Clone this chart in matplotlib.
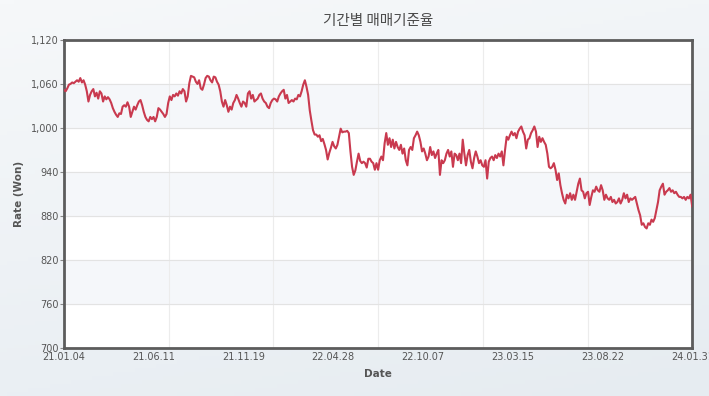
import numpy as np
import matplotlib
matplotlib.use("Agg")
import matplotlib.pyplot as plt
from matplotlib.colors import LinearSegmentedColormap
from matplotlib.ticker import FuncFormatter

# daily rate (Won), left to right
rate_2021 = [1052, 1050, 1054, 1059, 1060, 1062, 1061, 1063, 1065, 1063, 1068, 1062, 1065, 1059, 1050, 1036,
             1045, 1050, 1053, 1043, 1048, 1040, 1050, 1047, 1036, 1043, 1039, 1042, 1039, 1034, 1027, 1022,
             1018, 1015, 1020, 1019, 1029, 1031, 1029, 1035, 1029, 1015, 1022, 1029, 1025, 1031, 1036, 1038,
             1031, 1022, 1015, 1011, 1009, 1015, 1012, 1015, 1009, 1015, 1027, 1025, 1022, 1019, 1015, 1019,
             1034, 1043, 1038, 1045, 1043, 1047, 1044, 1050, 1047, 1053, 1050, 1036, 1043, 1061, 1071, 1070,
             1069, 1063, 1060, 1065, 1054, 1052, 1059, 1068, 1071, 1070, 1065, 1062, 1070, 1069, 1063]
rate_2022a = [1059, 1050, 1036, 1029, 1038, 1031, 1022, 1029, 1025, 1034, 1038, 1045, 1040, 1034, 1029, 1036,
              1034, 1029, 1047, 1050, 1040, 1045, 1036, 1038, 1040, 1045, 1047, 1040, 1036, 1034, 1029, 1027,
              1034, 1038, 1040, 1039, 1036, 1043, 1047, 1050, 1052, 1040, 1045, 1034, 1036, 1038, 1036, 1040,
              1039, 1045, 1043, 1050, 1059, 1065, 1056, 1045, 1024, 1010, 997, 991, 991, 988, 990, 982,
              985, 978, 970, 957, 966, 973, 981, 975, 972, 977, 988, 999, 994, 995, 995, 996,
              993, 968, 947, 936, 942, 954, 965, 955, 952, 954, 952, 946, 958, 958, 954, 952, 943]
rate_2022b = [952, 943, 956, 961, 956, 979, 993, 977, 986, 974, 984, 972, 981, 974, 970, 977,
              965, 972, 956, 949, 970, 974, 970, 986, 990, 995, 990, 981, 968, 972, 965, 956,
              961, 974, 963, 968, 959, 965, 970, 936, 956, 952, 956, 965, 970, 961, 968, 947,
              965, 963, 956, 965, 952, 984, 965, 949, 963, 970, 954, 945, 959, 968, 961, 952,
              956, 949, 947, 956, 931, 954, 959, 961, 956, 963, 959, 965, 961, 968, 949, 970,
              988, 984, 990, 995, 990, 993, 986, 995, 999, 1002, 995, 990, 972, 984]
rate_2023 = [986, 993, 997, 1002, 995, 974, 988, 981, 986, 981, 977, 965, 947, 945, 947, 952,
             943, 929, 938, 922, 911, 902, 897, 909, 904, 911, 902, 909, 902, 913, 924, 931,
             915, 913, 904, 911, 913, 895, 906, 915, 913, 920, 915, 913, 922, 915, 902, 909,
             904, 902, 906, 899, 902, 897, 899, 904, 897, 902, 911, 904, 909, 899, 904, 902,
             904, 906, 897, 888, 881, 868, 870, 865, 863, 870, 868, 875, 872, 877, 888, 899,
             915, 920, 924, 909, 913, 915, 918, 913, 915, 911, 913, 909, 906, 906, 904, 906,
             902, 906, 904, 909, 893]

date_labels = ['21.01.04', '21.06.11', '21.11.19', '22.04.28', '22.10.07', '23.03.15', '23.08.22', '24.01.31']
y_ticks = [700, 760, 820, 880, 940, 1000, 1060, 1120]

rates = rate_2021 + rate_2022a + rate_2022b + rate_2023
n = len(rates)
x = np.arange(n)

fig = plt.figure(figsize=(7.09, 3.96), dpi=100)

# light grey-blue gradient behind everything
bg = fig.add_axes([0, 0, 1, 1], zorder=-10)
gy, gx = np.mgrid[0:1:100j, 0:1:100j]
grad = 0.75 * gy + 0.25 * (1 - gx)
bg.imshow(grad, aspect='auto', extent=[0, 1, 0, 1], origin='lower',
          cmap=LinearSegmentedColormap.from_list('bg', ['#e6ecf1', '#f6f8fa']))
bg.axis('off')

ax = fig.add_axes([0.0903, 0.1212, 0.886, 0.778])
ax.set_facecolor('white')

# alternating bands
for lo in (760, 880, 1000):
    ax.axhspan(lo, lo + 60, color='#f5f7fa', zorder=0)

ax.plot(x, rates, color='#c93a4f', lw=1.5, zorder=3)

ax.set_xlim(0, n - 1)
ax.set_ylim(700, 1120)
ax.set_yticks(y_ticks)
ax.yaxis.set_major_formatter(FuncFormatter(lambda v, p: f'{int(v):,}'))
ax.set_xticks(np.linspace(0, n - 1, len(date_labels)))
ax.set_xticklabels(date_labels)
ax.set_xticks(np.linspace(0, n - 1, 7), minor=True)

ax.grid(axis='y', color='#e3e3e3', lw=0.8, zorder=1)
ax.grid(axis='x', which='minor', color='#ececec', lw=0.8, zorder=1)
ax.set_axisbelow(True)

ax.tick_params(axis='x', which='both', length=0, pad=3, labelsize=7, labelcolor='#555555')
ax.tick_params(axis='y', length=3, width=0.8, color='#888888', pad=1, labelsize=7, labelcolor='#555555')

for s in ax.spines.values():
    s.set_color('#5c5c5c')
    s.set_linewidth(2)

ax.set_xlabel('Date', fontsize=7.5, fontweight='bold', color='#555555', labelpad=5)
ax.set_ylabel('Rate (Won)', fontsize=7.5, fontweight='bold', color='#555555', labelpad=5)

fig.text(0.533, 0.948, '기간별 매매기준율', ha='center', va='center', fontsize=10.5,
         color='#4a4a4a', family=['Noto Sans CJK KR', 'DejaVu Sans'])

fig.savefig('out.png', dpi=100)
